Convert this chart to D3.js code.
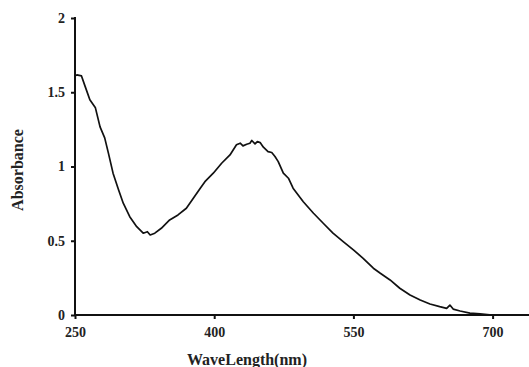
<!DOCTYPE html>
<html>
<head>
<meta charset="utf-8">
<script src="https://cdn.jsdelivr.net/npm/d3@7"></script>
<style>
  body { margin: 0; background: #fff; }
  text { font-family: 'Liberation Serif', 'Times New Roman', serif; font-weight: bold; fill: #222; }
</style>
</head>
<body>
<div id="chart"></div>
<script>
// absorption spectrum
const wavelength = [250, 252, 257, 261, 266, 272, 277, 282, 286, 291, 297, 302, 309, 316.5, 323.5, 328, 331, 336, 343, 352, 361, 370, 377.5, 385, 390, 399, 408, 417, 424, 428, 431, 435, 438.5, 440.5, 444, 446.5, 449.5, 453, 458, 462, 465.5, 469, 474.5, 480, 485, 496, 507, 517.5, 528, 539, 550, 560.5, 571.5, 579, 589.5, 600, 611, 622, 632.5, 643, 650.5, 654, 657.5, 665, 675.5, 686.5, 697, 703];
const absorbance = [1.61, 1.617, 1.61, 1.538, 1.449, 1.395, 1.267, 1.193, 1.09, 0.955, 0.842, 0.753, 0.662, 0.595, 0.551, 0.561, 0.539, 0.551, 0.584, 0.64, 0.674, 0.719, 0.786, 0.854, 0.898, 0.955, 1.022, 1.078, 1.146, 1.157, 1.139, 1.15, 1.157, 1.175, 1.152, 1.168, 1.161, 1.13, 1.1, 1.094, 1.067, 1.033, 0.955, 0.921, 0.854, 0.763, 0.685, 0.618, 0.551, 0.494, 0.438, 0.382, 0.315, 0.281, 0.236, 0.18, 0.135, 0.101, 0.074, 0.056, 0.045, 0.067, 0.04, 0.027, 0.013, 0.007, 0.001, 0];
const xTicks = [250, 400, 550, 700];
const yTicks = [0, 0.5, 1, 1.5, 2];

const width = 529, height = 367;
const data = wavelength.map((w, i) => ({ w, a: absorbance[i] }));

const svg = d3.select('#chart').append('svg')
  .attr('width', width)
  .attr('height', height);

const x = d3.scaleLinear().domain([250, 750]).range([75, 539]);
const y = d3.scaleLinear().domain([0, 2]).range([315, 18]);

const xAxis = d3.axisBottom(x).tickValues(xTicks).tickSize(4).tickPadding(8).tickFormat(d3.format('d'));
const yAxis = d3.axisLeft(y).tickValues(yTicks).tickSize(4).tickPadding(6).tickFormat(d => d);

const gx = svg.append('g')
  .attr('transform', 'translate(0,315)')
  .call(xAxis);
const gy = svg.append('g')
  .attr('transform', 'translate(75,0)')
  .call(yAxis);

[gx, gy].forEach(g => {
  g.select('.domain').attr('stroke', '#111').attr('stroke-width', 2);
  g.selectAll('.tick line').attr('stroke', '#111').attr('stroke-width', 2);
  g.selectAll('.tick text')
    .style('font-family', "'Liberation Serif', serif")
    .style('font-weight', 'bold')
    .style('font-size', '14px')
    .attr('fill', '#222');
});
gx.select('.domain').attr('d', `M${x(250)},0H${width + 20}`);
gy.select('.domain').attr('d', `M0,${y(0)}V${y(2) - 1}`);

const line = d3.line()
  .x(d => x(d.w))
  .y(d => y(d.a));

svg.append('path')
  .datum(data)
  .attr('fill', 'none')
  .attr('stroke', '#111')
  .attr('stroke-width', 1.7)
  .attr('stroke-linejoin', 'round')
  .attr('d', line);

svg.append('text')
  .attr('x', 247)
  .attr('y', 365)
  .attr('text-anchor', 'middle')
  .style('font-size', '16px')
  .text('WaveLength(nm)');

svg.append('text')
  .attr('transform', 'translate(23,170) rotate(-90)')
  .attr('text-anchor', 'middle')
  .style('font-size', '16px')
  .text('Absorbance');
</script>
</body>
</html>
